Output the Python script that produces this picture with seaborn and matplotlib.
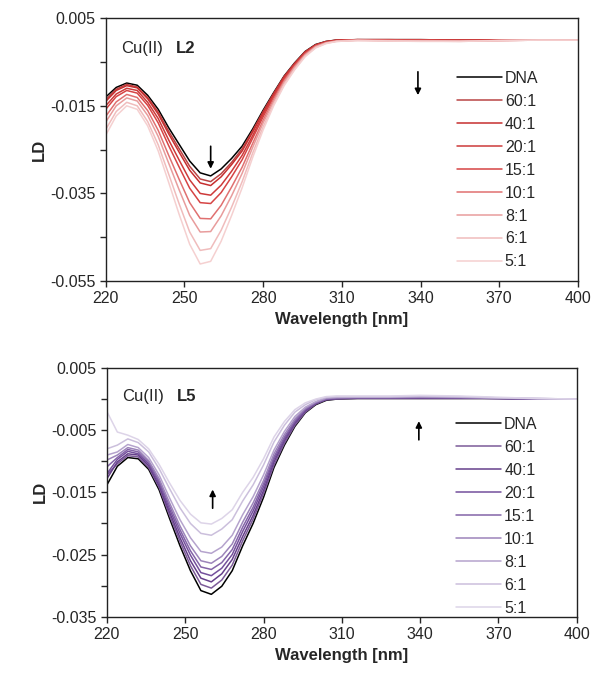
import numpy as np
import pandas as pd
import matplotlib.pyplot as plt
from matplotlib.ticker import FixedLocator
import seaborn as sns

# Wavelength grid [nm]
wavelength = [220, 224, 228, 232, 236, 240, 244, 248, 252, 256, 260, 264, 268, 272, 276,
              280, 284, 288, 292, 296, 300, 304, 308, 316, 328, 340, 355, 370, 385, 400]
ratio_labels = ['DNA', '60:1', '40:1', '20:1', '15:1', '10:1', '8:1', '6:1', '5:1']
x_ticks = [220, 250, 280, 310, 340, 370, 400]

# Cu(II) L2 - LD values (x 1e-3)
l2_dna = [-13.0, -10.8, -9.8, -10.3, -12.6, -15.8, -20.0, -23.8, -27.6, -30.3, -31.0, -29.4, -27.0, -24.2, -20.3,
          -16.0, -12.0, -8.2, -5.2, -2.6, -1.0, -0.3, 0.0, 0.1, 0.1, 0.1, 0.0, 0.0, 0.0, 0.0]
l2_60 = [-13.6, -11.2, -10.1, -10.7, -13.1, -16.4, -20.8, -24.8, -28.8, -31.7, -32.3, -30.5, -27.9, -24.8, -20.7,
         -16.3, -12.2, -8.3, -5.3, -2.7, -1.1, -0.3, 0.0, 0.1, 0.1, 0.1, 0.0, 0.0, 0.0, 0.0]
l2_40 = [-14.0, -11.5, -10.4, -10.9, -13.4, -16.9, -21.4, -25.6, -29.7, -32.6, -33.2, -31.2, -28.4, -25.3, -21.0,
         -16.5, -12.3, -8.4, -5.4, -2.7, -1.1, -0.4, 0.0, 0.1, 0.1, 0.0, 0.0, 0.0, 0.0, 0.0]
l2_20 = [-15.0, -12.3, -11.0, -11.5, -14.2, -17.9, -22.8, -27.4, -31.9, -35.0, -35.4, -33.1, -29.9, -26.3, -21.8,
         -17.0, -12.7, -8.7, -5.6, -2.9, -1.2, -0.4, -0.1, 0.1, 0.0, 0.0, 0.0, 0.0, 0.0, 0.0]
l2_15 = [-15.8, -12.9, -11.5, -12.1, -14.9, -18.9, -24.1, -29.0, -33.8, -37.1, -37.3, -34.8, -31.2, -27.3, -22.4,
         -17.5, -13.0, -8.9, -5.7, -3.0, -1.3, -0.5, -0.1, 0.0, 0.0, 0.0, -0.1, 0.0, 0.0, 0.0]
l2_10 = [-17.4, -14.1, -12.4, -13.1, -16.1, -20.6, -26.3, -31.8, -37.1, -40.7, -40.8, -37.7, -33.5, -29.0, -23.6,
         -18.3, -13.5, -9.3, -6.0, -3.2, -1.4, -0.6, -0.2, 0.0, -0.1, -0.1, -0.2, -0.1, 0.0, 0.0]
l2_8 = [-18.7, -15.0, -13.2, -13.9, -17.2, -22.0, -28.1, -34.2, -40.0, -43.8, -43.7, -40.1, -35.5, -30.4, -24.5,
        -18.9, -14.0, -9.6, -6.2, -3.4, -1.5, -0.6, -0.2, 0.0, -0.1, -0.2, -0.2, -0.1, 0.0, 0.0]
l2_6 = [-20.4, -16.3, -14.2, -15.0, -18.6, -23.9, -30.6, -37.4, -43.8, -48.0, -47.6, -43.4, -38.1, -32.3, -25.8,
        -19.8, -14.6, -10.1, -6.6, -3.6, -1.7, -0.7, -0.3, -0.1, -0.2, -0.2, -0.3, -0.1, 0.0, 0.0]
l2_5 = [-21.7, -17.3, -15.0, -15.8, -19.6, -25.3, -32.5, -39.8, -46.6, -51.1, -50.5, -45.9, -40.0, -33.7, -26.8,
        -20.5, -15.0, -10.4, -6.8, -3.8, -1.8, -0.8, -0.3, -0.1, -0.2, -0.3, -0.3, -0.1, 0.0, 0.0]

# Cu(II) L5 - LD values (x 1e-3)
l5_dna = [-13.8, -10.8, -9.4, -9.6, -11.3, -14.6, -19.2, -23.6, -27.6, -30.8, -31.4, -30.1, -27.6, -23.6, -20.0,
          -15.8, -11.0, -7.4, -4.4, -2.2, -0.9, -0.2, 0.0, 0.1, 0.1, 0.1, 0.1, 0.1, 0.0, 0.0]
l5_60 = [-12.2, -10.4, -9.1, -9.3, -11.0, -14.2, -18.7, -22.9, -26.8, -29.8, -30.4, -29.1, -26.7, -22.8, -19.3,
         -15.2, -10.6, -7.1, -4.2, -2.1, -0.8, -0.1, 0.0, 0.1, 0.1, 0.1, 0.1, 0.1, 0.0, 0.0]
l5_40 = [-12.8, -10.1, -8.8, -9.0, -10.7, -13.9, -18.2, -22.3, -26.0, -28.8, -29.4, -28.1, -25.8, -22.1, -18.7,
         -14.7, -10.1, -6.7, -3.9, -1.9, -0.7, -0.1, 0.1, 0.2, 0.2, 0.2, 0.2, 0.1, 0.0, 0.0]
l5_20 = [-12.0, -9.7, -8.4, -8.8, -10.4, -13.5, -17.7, -21.6, -25.1, -27.9, -28.4, -27.2, -25.0, -21.3, -18.0,
         -14.1, -9.7, -6.4, -3.7, -1.8, -0.7, 0.0, 0.1, 0.2, 0.2, 0.2, 0.2, 0.1, 0.0, 0.0]
l5_15 = [-10.9, -9.4, -8.1, -8.5, -10.1, -13.2, -17.2, -21.0, -24.4, -27.0, -27.4, -26.3, -24.2, -20.6, -17.4,
         -13.6, -9.3, -6.1, -3.5, -1.6, -0.6, 0.0, 0.2, 0.2, 0.2, 0.3, 0.2, 0.1, 0.0, 0.0]
l5_10 = [-9.8, -9.0, -7.8, -8.2, -9.9, -12.8, -16.7, -20.4, -23.6, -26.0, -26.4, -25.3, -23.3, -19.8, -16.7,
         -13.1, -8.8, -5.7, -3.2, -1.5, -0.5, 0.1, 0.2, 0.3, 0.3, 0.3, 0.3, 0.2, 0.0, 0.0]
l5_8 = [-9.0, -8.5, -7.3, -7.8, -9.4, -12.2, -15.9, -19.4, -22.3, -24.5, -24.8, -23.8, -21.9, -18.6, -15.7,
        -12.2, -8.2, -5.2, -2.8, -1.3, -0.4, 0.2, 0.3, 0.3, 0.3, 0.4, 0.3, 0.2, 0.1, 0.0]
l5_6 = [-8.0, -7.4, -6.4, -7.0, -8.5, -11.2, -14.4, -17.5, -20.0, -21.6, -21.9, -20.9, -19.4, -16.4, -13.8,
        -10.6, -6.9, -4.2, -2.1, -0.9, -0.1, 0.3, 0.4, 0.4, 0.4, 0.5, 0.4, 0.2, 0.1, 0.0]
l5_5 = [-2.0, -5.3, -5.8, -6.5, -8.0, -10.5, -13.5, -16.3, -18.5, -19.9, -20.1, -19.2, -17.8, -15.0, -12.6,
        -9.6, -6.1, -3.6, -1.7, -0.6, 0.0, 0.4, 0.5, 0.5, 0.5, 0.6, 0.5, 0.3, 0.1, 0.0]

red_colors = ['black', '#b94545', '#c62f2f', '#cd3a3a', '#d64444', '#e07070', '#e89c9c', '#f0bcbc', '#f5d0d0']
purple_colors = ['black', '#7c5b98', '#66408b', '#74509c', '#8464a8', '#9c84ba', '#b5a3cd', '#cbbfdc', '#ddd4e8']


def long_frame(series):
    rows = []
    for label, vals in zip(ratio_labels, series):
        for w, v in zip(wavelength, vals):
            rows.append((label, w, v * 1e-3))
    return pd.DataFrame(rows, columns=['ratio', 'wavelength', 'LD'])


df_l2 = long_frame([l2_dna, l2_60, l2_40, l2_20, l2_15, l2_10, l2_8, l2_6, l2_5])
df_l5 = long_frame([l5_dna, l5_60, l5_40, l5_20, l5_15, l5_10, l5_8, l5_6, l5_5])

sns.set_style('ticks')
plt.rcParams['font.family'] = ['Liberation Sans', 'DejaVu Sans']
plt.rcParams['lines.solid_joinstyle'] = 'round'

fig = plt.figure(figsize=(5.94, 6.74), dpi=100)
ax1 = fig.add_axes([0.178, 0.583, 0.795, 0.390])
ax2 = fig.add_axes([0.180, 0.085, 0.791, 0.369])


def draw_panel(ax, df, colors, ymin, ymax, major, minor, ligand, legend_y, arrows):
    sns.lineplot(data=df, x='wavelength', y='LD', hue='ratio', hue_order=ratio_labels,
                 palette=dict(zip(ratio_labels, colors)), linewidth=1.1, sort=False,
                 estimator=None, ax=ax)
    ax.set_xlim(220, 400)
    ax.set_ylim(ymin, ymax)
    ax.xaxis.set_major_locator(FixedLocator(x_ticks))
    ax.yaxis.set_major_locator(FixedLocator(major))
    ax.yaxis.set_minor_locator(FixedLocator(minor))
    ax.set_yticklabels([f'{t:.3f}' for t in major])
    ax.tick_params(axis='both', which='both', direction='out', length=4, width=1, labelsize=11.5,
                   top=False, right=False)
    for s in ax.spines.values():
        s.set_linewidth(1.0)
        s.set_color('#222222')
        s.set_visible(True)
    ax.set_xlabel('Wavelength [nm]', fontsize=12, fontweight='bold')
    ax.set_ylabel('LD', fontsize=12, fontweight='bold', labelpad=2)
    handles, labels = ax.get_legend_handles_labels()
    ax.legend(handles, labels, frameon=False, loc='upper left', bbox_to_anchor=(0.73, legend_y),
              handlelength=2.8, handletextpad=0.2, labelspacing=0.5, fontsize=11.5, borderaxespad=0)
    ax.text(0.032, 0.885, 'Cu(II)', transform=ax.transAxes, fontsize=12, va='center', ha='left')
    ax.text(0.148, 0.885, ligand, transform=ax.transAxes, fontsize=12, fontweight='bold',
            va='center', ha='left')
    for x, y0, y1 in arrows:
        ax.annotate('', xy=(x, y1), xytext=(x, y0),
                    arrowprops=dict(arrowstyle='-|>', color='black', lw=1.2, mutation_scale=9))


draw_panel(ax1, df_l2, red_colors, -0.055, 0.005,
           [0.005, -0.015, -0.035, -0.055], [-0.005, -0.025, -0.045], 'L2', 0.825,
           [(260.0, -0.0236, -0.0300), (339.0, -0.0066, -0.0132)])
draw_panel(ax2, df_l5, purple_colors, -0.035, 0.005,
           [0.005, -0.005, -0.015, -0.025, -0.035], [0.0, -0.01, -0.02, -0.03], 'L5', 0.83,
           [(260.5, -0.0180, -0.0141), (339.5, -0.0070, -0.0031)])

fig.savefig('out.png', dpi=100)
